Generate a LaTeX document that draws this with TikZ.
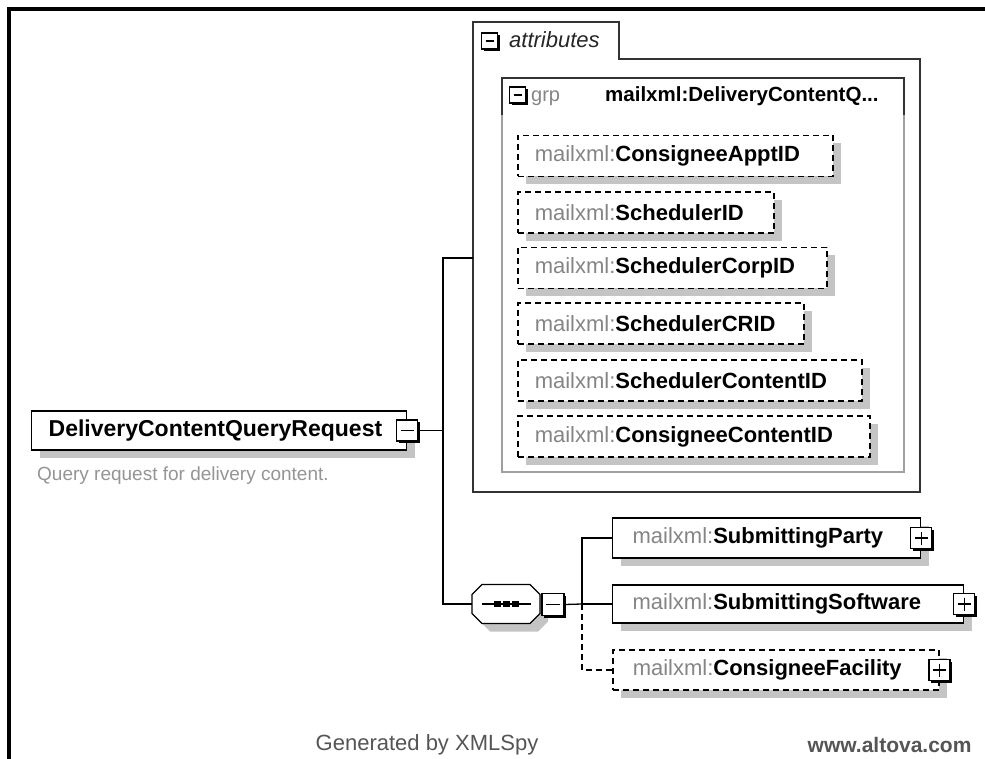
\documentclass[tikz,border=0pt]{standalone}
\usepackage{fontspec}
\setmainfont{Liberation Sans}
\usetikzlibrary{shadows}

\definecolor{nsgray}{HTML}{858585}
\definecolor{shgray}{HTML}{C4C4C4}
\definecolor{descgray}{HTML}{959595}
\definecolor{footgray}{HTML}{555555}
\definecolor{boxgray}{HTML}{A0A0A0}

\newcommand{\fsz}[1]{\fontsize{#1}{#1}\selectfont}
\newcommand{\qn}[1]{{\color{nsgray}\mdseries mailxml:}\textbf{#1}}

\begin{document}
\begin{tikzpicture}[x=1pt,y=-1pt]
			\tikzstyle{every node}=[font=\fsz{22}]
			\tikzstyle{conn}=[line width=1.3pt]
			\tikzstyle{elem}=[draw, line width=1.3pt, fill=white, anchor=west,
				inner xsep=17pt, inner ysep=0pt, minimum height=41pt, align=left,
				drop shadow={shadow xshift=8pt, shadow yshift=-8pt, fill=shgray, opacity=1}]
			\tikzstyle{optelem}=[elem, line width=1.5pt, dash pattern=on 6pt off 4pt]
			\tikzstyle{pmbox}=[draw, fill=white, line width=1.2pt, inner sep=0pt, minimum size=21pt,
				drop shadow={shadow xshift=2pt, shadow yshift=-2pt, fill=black, opacity=1}]
			\tikzstyle{minusbox}=[pmbox, path picture={
				\draw[line width=1.2pt] ([xshift=4pt]path picture bounding box.west)
					-- ([xshift=-4pt]path picture bounding box.east);}]
			\tikzstyle{plusbox}=[pmbox, path picture={
				\draw[line width=1.2pt] ([xshift=4pt]path picture bounding box.west)
					-- ([xshift=-4pt]path picture bounding box.east);
				\draw[line width=1.2pt] ([yshift=-4pt]path picture bounding box.north)
					-- ([yshift=4pt]path picture bounding box.south);}]
			\tikzstyle{smallminus}=[minusbox, minimum size=16pt]
			\tikzstyle{seqbox}=[minimum width=68pt, minimum height=39pt, inner sep=0pt]

			\useasboundingbox (0,0) rectangle (985,759);
			\fill[white] (0,0) rectangle (985,759);
			\draw[line width=4.5pt] (9,759) -- (9,9) -- (985,9);

			% attributes tab and group
			\draw[line width=1.3pt, draw=black!80] (473,492) -- (473,22) -- (619,22)
				-- (619,59) -- (920,59) -- (920,492) -- cycle;
			\node[smallminus] (attrpm) at (489.5,41) {};
			\node[anchor=base west, inner sep=0pt, font=\fsz{22}\itshape, text=black!85] (attrlbl) at (509,48) {attributes};
			\draw[line width=1.3pt, draw=boxgray] (502,78) rectangle (904,472);
			\draw[line width=1.3pt, draw=black!80] (502,115) -- (502,78) -- (904,78) -- (904,115);
			\node[smallminus] (grppm) at (517.5,95) {};
			\node[anchor=base west, inner sep=0pt, font=\fsz{20}, text=nsgray] (grplbl) at (531,102) {grp};
			\node[anchor=base west, inner sep=0pt, font=\fsz{20.5}\bfseries] (grpname) at (605,102) {mailxml:DeliveryContentQ...};

			\foreach \nm/\y/\w in {ConsigneeApptID/156/281, SchedulerID/212.5/222,
				SchedulerCorpID/268/275, SchedulerCRID/323.5/252,
				SchedulerContentID/380.5/310, ConsigneeContentID/436.5/318}
				\node[optelem, text width=\w pt] (\nm) at (517,\y) {\qn{\nm}};

			% root element
			\node[elem, minimum height=39pt, text width=341pt, font=\fsz{23}\bfseries] (root) at (31,430.5) {DeliveryContentQueryRequest};
			\node[minusbox] (rootpm) at (root.east) {};
			\node[anchor=west, inner sep=0pt, font=\fsz{19}, text=descgray] (desc) at (37,476) {Query request for delivery content.};

			% sequence
			\node[seqbox] (seq) at (506,604) {};
			\fill[shgray, shift={(seq.center)}, xshift=8pt, yshift=-8pt] (-34,-9.5) -- (-24,-19.5) -- (24,-19.5)
				-- (34,-9.5) -- (34,9.5) -- (24,19.5) -- (-24,19.5) -- (-34,9.5) -- cycle;
			\draw[line width=1.2pt, fill=white, shift={(seq.center)}] (-34,-9.5) -- (-24,-19.5) -- (24,-19.5)
				-- (34,-9.5) -- (34,9.5) -- (24,19.5) -- (-24,19.5) -- (-34,9.5) -- cycle;
			\draw[line width=1.3pt] ([xshift=-24pt]seq.center) -- ([xshift=25pt]seq.center);
			\foreach \dx in {-9,0,9}
				\fill[shift={(seq.center)}] (\dx-3.5,-3) rectangle (\dx+3.5,3);
			\node[minusbox, minimum size=22pt] (seqpm) at (553,604.5) {};

			% children
			\node[elem, inner xsep=20pt, text width=268pt, minimum height=40pt] (party) at (612,538) {\qn{SubmittingParty}};
			\node[plusbox] (partypm) at (party.east) {};
			\node[elem, inner xsep=20pt, text width=311pt, minimum height=38pt] (software) at (612,604) {\qn{SubmittingSoftware}};
			\node[plusbox] (softwarepm) at (software.east) {};
			\node[optelem, inner xsep=20pt, text width=286pt, minimum height=40pt] (facility) at (612,670) {\qn{ConsigneeFacility}};
			\node[plusbox] (facilitypm) at (facility.east) {};

			% connectors
			\coordinate (trunktop) at (443,258);
			\coordinate (attrin) at (473,258);
			\coordinate (fork) at (582,604);
			\draw[conn] (rootpm.east) -- (rootpm.east -| trunktop);
			\draw[conn] (attrin) -- (trunktop) |- (seq.west);
			\draw[conn] (seqpm.east) -- (fork);
			\draw[conn] (fork) |- (party.west);
			\draw[conn] (fork) -- (software.west);
			\draw[conn, line width=1.5pt, dash pattern=on 6pt off 4pt] (fork) |- (facility.west);

			% footer
			\node[text=footgray, font=\fsz{22}] (gen) at (427,745) {Generated by XMLSpy};
			\node[anchor=east, text=footgray, font=\fsz{21}\bfseries] (site) at (975,745) {www.altova.com};
		\end{tikzpicture}
\end{document}
